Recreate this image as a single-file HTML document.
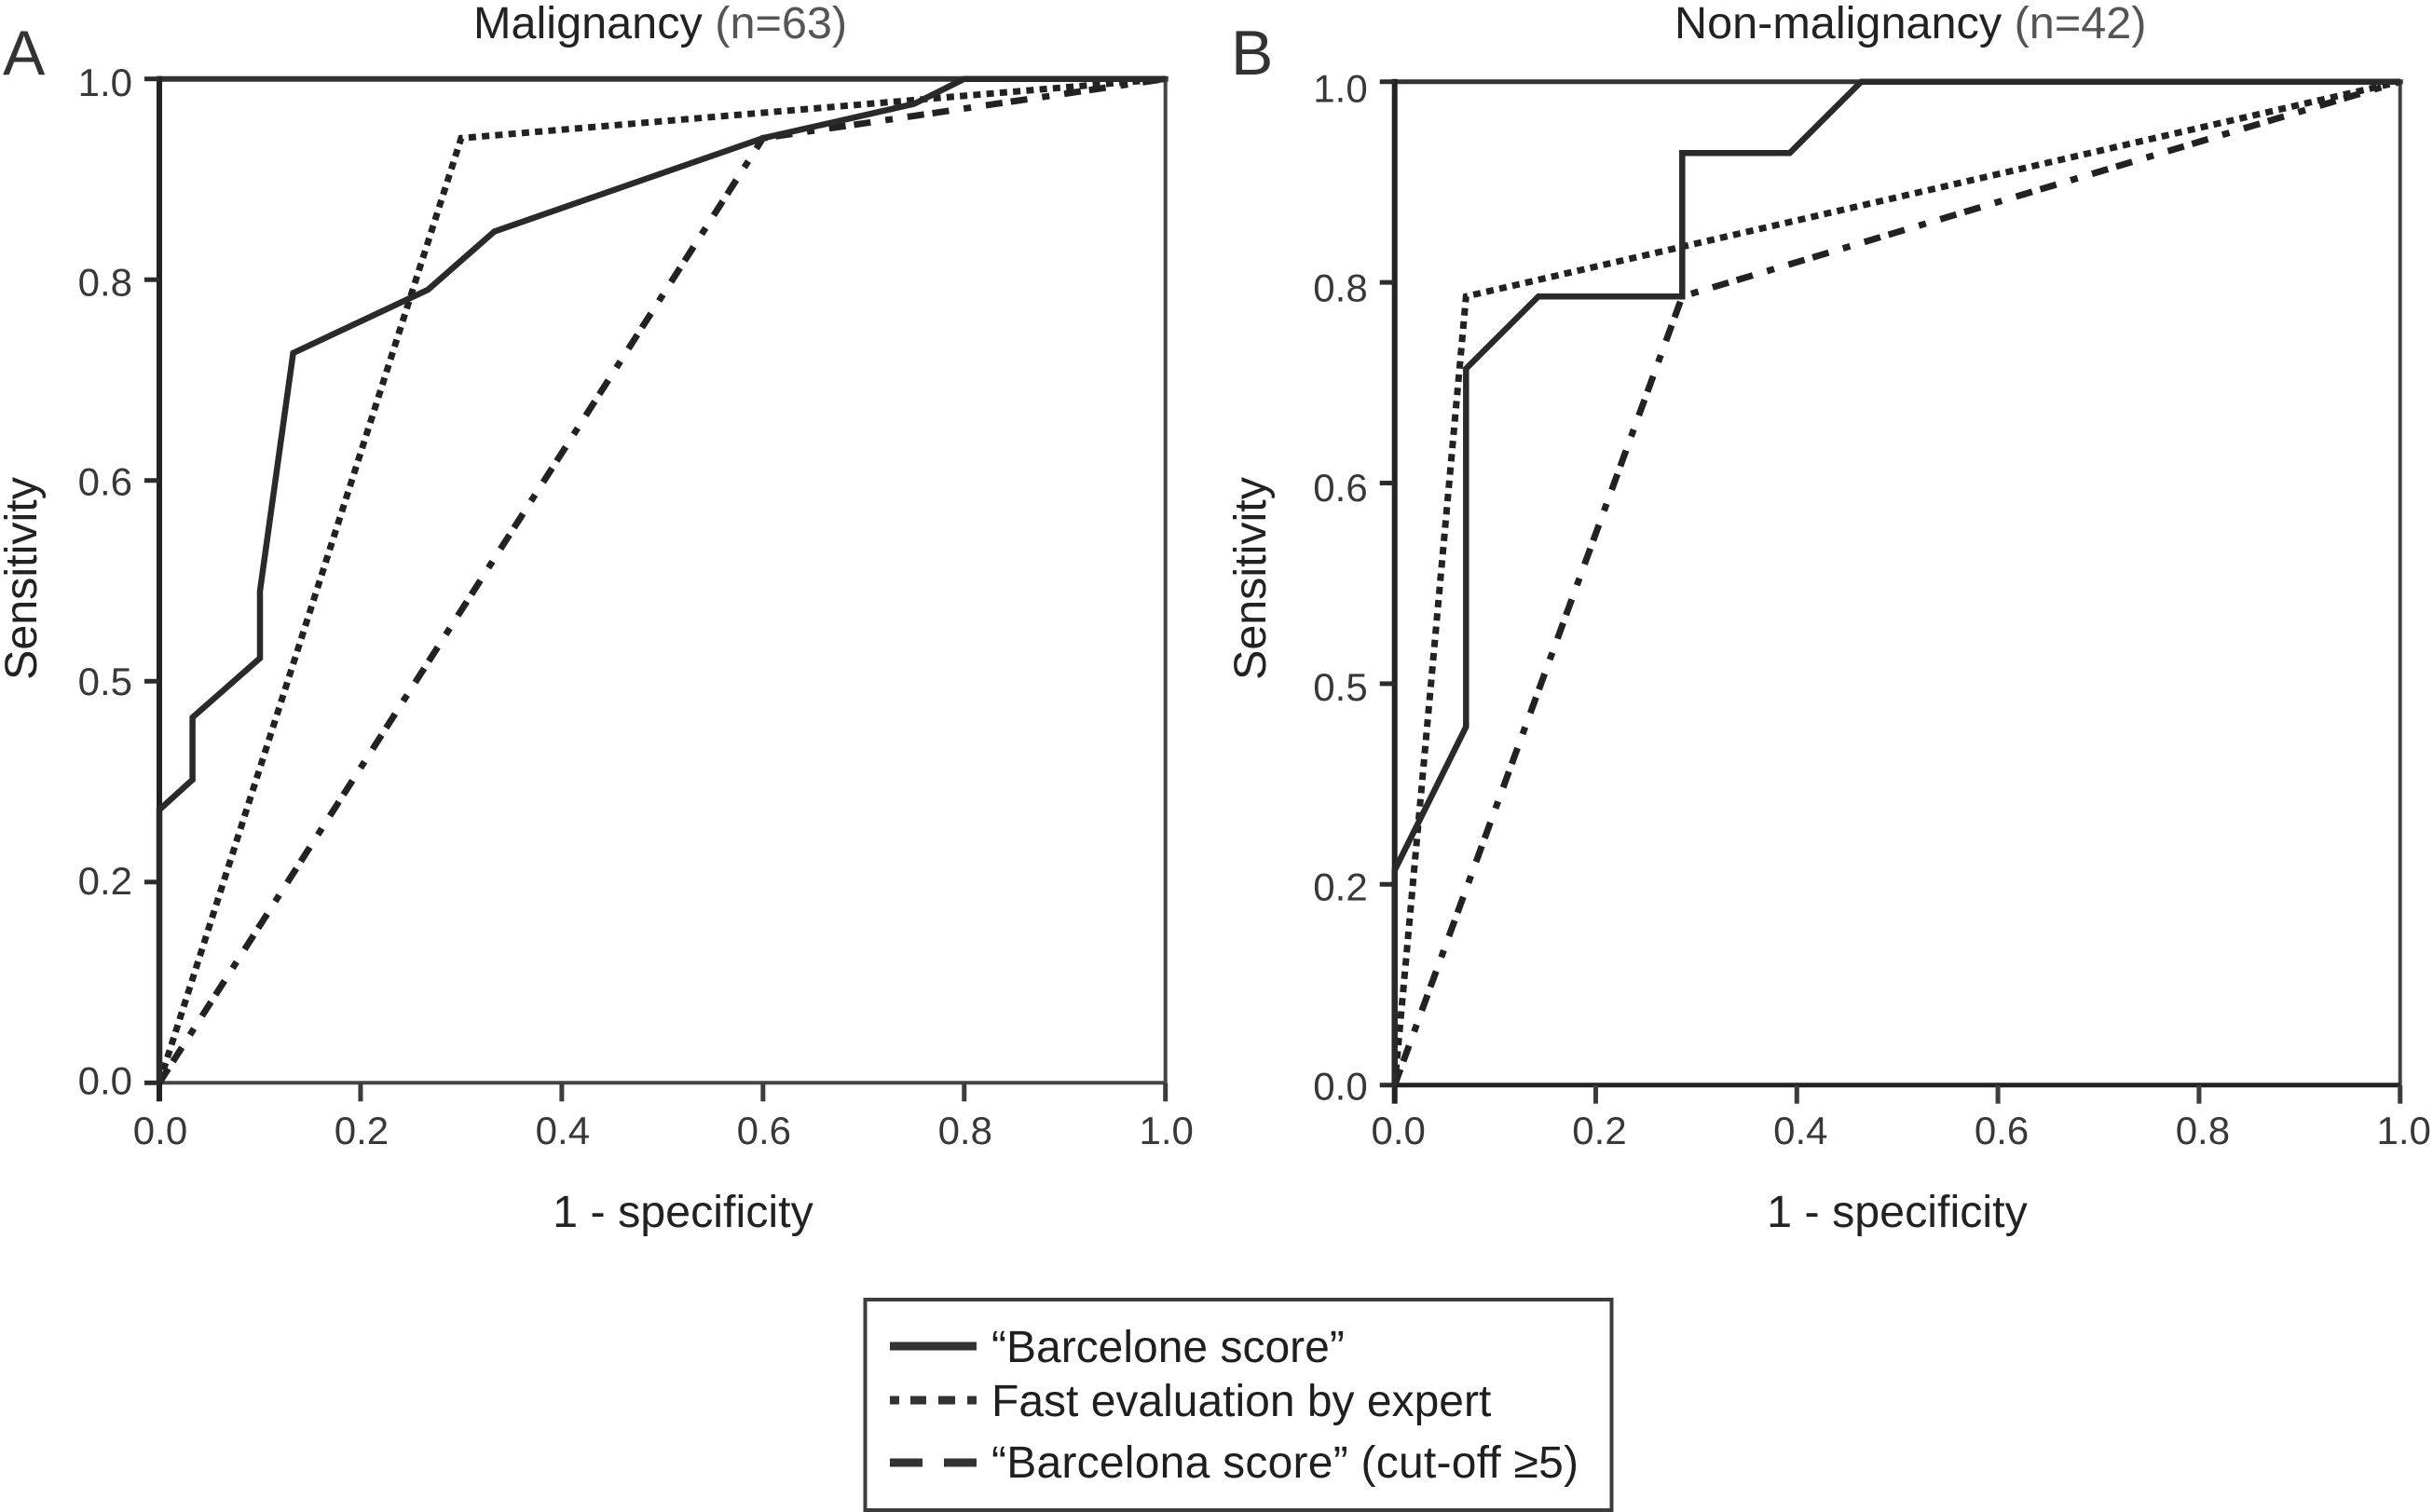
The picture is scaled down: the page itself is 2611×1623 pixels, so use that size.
<!DOCTYPE html>
<html lang="en">
<head>
<meta charset="utf-8">
<title>ROC curves: Malignancy and Non-malignancy</title>
<style>
html,body{margin:0;padding:0;background:#fff;width:2611px;height:1623px;overflow:hidden}
svg{display:block}
text{font-family:"Liberation Sans",sans-serif;fill:#2b2b2b}
.tick{font-size:42px;fill:#383838}
.title{font-size:48.6px;fill:#222}
.axis-title{font-size:48.4px;fill:#222}
.panel{font-size:68px;fill:#333}
.legend-text{font-size:48px;fill:#1f1f1f}
</style>
</head>
<body>
<svg id="figure" xmlns="http://www.w3.org/2000/svg" width="2611" height="1623" viewBox="0 0 2611 1623">
  <rect x="0" y="0" width="2611" height="1623" fill="#fff"/>

  <text class="panel" x="3" y="80">A</text>
  <text class="panel" x="1321" y="80">B</text>

  <text class="title" x="508" y="41">Malignancy <tspan fill="#555">(n=63)</tspan></text>
  <text class="title" x="1797" y="41">Non-malignancy <tspan fill="#555">(n=42)</tspan></text>

  <text class="axis-title" text-anchor="middle" transform="translate(39,621) rotate(-90)">Sensitivity</text>
  <text class="axis-title" text-anchor="middle" transform="translate(1358,621) rotate(-90)">Sensitivity</text>
  <text class="axis-title" text-anchor="middle" x="733" y="1317">1 - specificity</text>
  <text class="axis-title" text-anchor="middle" x="2036" y="1317">1 - specificity</text>

  <g id="panel-a"></g>
  <g id="panel-b"></g>

  <g>
    <rect x="928.5" y="1395" width="801" height="226" fill="#fff" stroke="#3c3c3c" stroke-width="4"/>
    <line x1="955" y1="1445" x2="1048" y2="1445" stroke="#333" stroke-width="9"/>
    <line x1="955" y1="1503" x2="1048" y2="1503" stroke="#333" stroke-width="9" stroke-dasharray="10 12 17 13 18 13 10"/>
    <line x1="955" y1="1570" x2="1048" y2="1570" stroke="#333" stroke-width="9" stroke-dasharray="35 23 35"/>
    <text class="legend-text" x="1064" y="1462">“Barcelone score”</text>
    <text class="legend-text" x="1064" y="1520">Fast evaluation by expert</text>
    <text class="legend-text" x="1064" y="1586" textLength="630">“Barcelona score” (cut-off ≥5)</text>
  </g>
</svg>

<script>
// Shared ticks
const xTickValues = [0, 0.2, 0.4, 0.6, 0.8, 1];
const xTickLabels = ["0.0", "0.2", "0.4", "0.6", "0.8", "1.0"];
const yTickValues = [0, 0.2, 0.4, 0.6, 0.8, 1];
const yTickLabels = ["0.0", "0.2", "0.5", "0.6", "0.8", "1.0"];

// Panel A: Malignancy (n=63)
const malignancyScoreFpr = [0, 0, 0.033, 0.033, 0.1, 0.1, 0.133, 0.267, 0.333, 0.6, 0.75, 0.8, 1];
const malignancyScoreTpr = [0, 0.272, 0.302, 0.364, 0.423, 0.49, 0.727, 0.79, 0.848, 0.941, 0.975, 1, 1];
const malignancyExpertFpr = [0, 0.3, 1];
const malignancyExpertTpr = [0, 0.941, 1];
const malignancyCutoffFpr = [0, 0.6, 1];
const malignancyCutoffTpr = [0, 0.941, 1];

// Panel B: Non-malignancy (n=42)
const nonMalignancyScoreFpr = [0, 0, 0.071, 0.071, 0.143, 0.286, 0.286, 0.393, 0.464, 1];
const nonMalignancyScoreTpr = [0, 0.214, 0.357, 0.714, 0.786, 0.786, 0.929, 0.929, 1, 1];
const nonMalignancyExpertFpr = [0, 0.071, 1];
const nonMalignancyExpertTpr = [0, 0.786, 1];
const nonMalignancyCutoffFpr = [0, 0.286, 1];
const nonMalignancyCutoffTpr = [0, 0.786, 1];

const NS = 'http://www.w3.org/2000/svg';

function make(parent, tag, attrs) {
  const el = document.createElementNS(NS, tag);
  for (const k in attrs) el.setAttribute(k, attrs[k]);
  parent.appendChild(el);
  return el;
}

function drawPanel(root, g, scoreX, scoreY, expertX, expertY, cutoffX, cutoffY) {
  const sx = v => g.x0 + v * (g.x1 - g.x0);
  const sy = v => g.y0 + v * (g.y1 - g.y0);
  const labelY = v => g.lab0 + v * (g.lab1 - g.lab0);
  const pts = (xs, ys) => xs.map((x, i) => sx(x).toFixed(1) + ',' + sy(ys[i]).toFixed(1)).join(' ');

  // frame
  const frame = make(root, 'g', {});
  
  
  const top = make(frame, 'line', {x1: g.x0 - 3, y1: g.y1, x2: g.x1 + 3, y2: g.y1, stroke: '#333', 'stroke-width': g.topW});
  
  
  const right = make(frame, 'line', {x1: g.x1, y1: g.y1, x2: g.x1, y2: g.y0, stroke: '#444', 'stroke-width': 4});
  
  
  const bottom = make(frame, 'line', {x1: g.x0, y1: g.y0, x2: g.x1, y2: g.y0, stroke: g.botC, 'stroke-width': g.botW});
  
  
  const left = make(frame, 'line', {x1: g.x0, y1: g.y1 - 3, x2: g.x0, y2: g.y0, stroke: '#222', 'stroke-width': 6});
  
  

  // x ticks
  xTickValues.forEach((v, i) => {
    const t = make(root, 'line', {x1: sx(v), y1: g.y0, x2: sx(v), y2: g.y0 + 20, stroke: i === 0 ? '#222' : '#3c3c3c', 'stroke-width': i === 0 ? 6 : 5});
    
    
    const l = make(root, 'text', {class: 'tick', x: sx(v) + g.xLabOff, y: 1228, 'text-anchor': 'middle'});
    
    
    l.textContent = xTickLabels[i];
  });

  // y ticks
  yTickValues.forEach((v, i) => {
    const t = make(root, 'line', {x1: g.x0 - 16, y1: sy(v), x2: g.x0, y2: sy(v), stroke: '#2c2c2c', 'stroke-width': 5});
    
    
    const l = make(root, 'text', {class: 'tick', x: g.x0 - 29, y: labelY(v) + 14.5, 'text-anchor': 'end'});
    
    
    l.textContent = yTickLabels[i];
  });

  // series
  const cutoff = make(root, 'polyline', {points: pts(cutoffX, cutoffY), fill: 'none', stroke: '#222', 'stroke-width': 7, 'stroke-dasharray': '18 9 18 16 8 16', 'stroke-dashoffset': g.cutOff});
  
  
  const expert = make(root, 'polyline', {points: pts(expertX, expertY), fill: 'none', stroke: '#222', 'stroke-width': 7, 'stroke-dasharray': '8 6.3'});
  
  
  const score = make(root, 'polyline', {points: pts(scoreX, scoreY), fill: 'none', stroke: '#2a2a2a', 'stroke-width': 6.5, 'stroke-linejoin': 'miter'});
  
  
}

drawPanel(document.getElementById('panel-a'),
  {x0: 171, x1: 1250.7, y0: 1162.3, y1: 84.7, lab0: 1160, lab1: 88.7, xLabOff: 1, topW: 6, botW: 4, botC: '#444', cutOff: 0},
  malignancyScoreFpr, malignancyScoreTpr,
  malignancyExpertFpr, malignancyExpertTpr,
  malignancyCutoffFpr, malignancyCutoffTpr);

drawPanel(document.getElementById('panel-b'),
  {x0: 1496.7, x1: 2575.7, y0: 1164.7, y1: 87.7, lab0: 1166, lab1: 95, xLabOff: 4, topW: 5, botW: 5, botC: '#222', cutOff: 0},
  nonMalignancyScoreFpr, nonMalignancyScoreTpr,
  nonMalignancyExpertFpr, nonMalignancyExpertTpr,
  nonMalignancyCutoffFpr, nonMalignancyCutoffTpr);
</script>
</body>
</html>
